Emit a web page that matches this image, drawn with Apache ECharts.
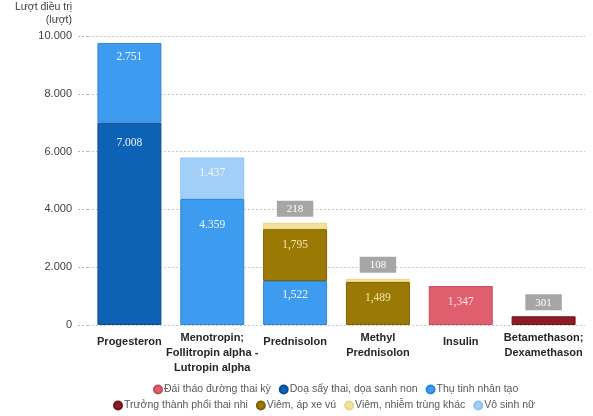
<!DOCTYPE html>
<html>
<head>
<meta charset="utf-8">
<script src="https://cdn.jsdelivr.net/npm/echarts@6/dist/echarts.min.js"></script>
<style>
  html, body { margin: 0; padding: 0; background: #ffffff; }
  #chart { width: 593px; height: 416px; }
</style>
</head>
<body>
<div id="chart"></div>
<script>
// Drug categories along the x axis
const categories = [
  'Progesteron',
  'Menotropin;\nFollitropin alpha -\nLutropin alpha',
  'Prednisolon',
  'Methyl\nPrednisolon',
  'Insulin',
  'Betamethason;\nDexamethason'
];

// Treatment counts per indication (null = not used for that drug)
const doaSayThai      = [7008, null, null, null, null, null];
const thuTinh         = [2751, 4359, 1522, null, null, null];
const viemApXeVu      = [null, null, 1795, 1489, null, null];
const viemNhiemTrung  = [null, null, 218, 108, null, null];
const voSinhNu        = [null, 1437, null, null, null, null];
const daiThaoDuong    = [null, null, null, null, 1347, null];
const truongThanhPhoi = [null, null, null, null, null, 301];

// Thousands separator used in each column's value labels
const labelSep = ['.', '.', ',', ',', ',', ','];

// Y axis ticks
const yMax = 10000;
const yStep = 2000;

const fmtNum = (v, sep) => String(v).replace(/\B(?=(\d{3})+(?!\d))/g, sep);

const insideLabel = (color, distance) => ({
  show: true,
  position: 'insideTop',
  distance: distance,
  color: color,
  fontFamily: 'Liberation Serif',
  fontSize: 11.5,
  formatter: p => fmtNum(p.value, labelSep[p.dataIndex])
});

const boxLabel = {
  show: true,
  position: 'top',
  distance: 6,
  color: '#ffffff',
  backgroundColor: '#a6a6a6',
  padding: [3, 10, 2, 10],
  fontFamily: 'Liberation Serif',
  fontSize: 11,
  formatter: p => fmtNum(p.value, labelSep[p.dataIndex])
};

// labelDrop: per-column label distance from the segment top (tall segments sit lower)
const barBase = (name, data, color, border, label, labelDrop) => ({
  name, type: 'bar', stack: 'total',
  data: data.map((v, i) => (labelDrop && labelDrop[i] != null && v != null)
    ? { value: v, label: { distance: labelDrop[i] } } : v),
  barWidth: 64,
  itemStyle: { color, borderColor: border, borderWidth: 1 },
  label
});

const series = [
  barBase('Doạ sẩy thai, dọa sanh non', doaSayThai, '#0e62b5', '#0a4f94', insideLabel('#e8f1fb', 15)),
  barBase('Thụ tinh nhân tạo', thuTinh, '#3d9cf0', '#2f86d6', insideLabel('#f2f8ff', 8), [null, 20, null]),
  barBase('Viêm, áp xe vú', viemApXeVu, '#9a7a05', '#7d6304', insideLabel('#f2e6a6', 10)),
  barBase('Viêm, nhiễm trùng khác', viemNhiemTrung, '#f4e29a', '#e8d48a', boxLabel),
  barBase('Vô sinh nữ', voSinhNu, '#a2cff7', '#8fc2ef', insideLabel('#f4f9ff', 9)),
  barBase('Đái tháo đường thai kỳ', daiThaoDuong, '#df5f6f', '#c44c5b', insideLabel('#fbe3e6', 10)),
  barBase('Trưởng thành phổi thai nhi', truongThanhPhoi, '#8e1c24', '#6f141b', boxLabel)
];

const legendCommon = {
  icon: 'circle',
  itemWidth: 8,
  itemHeight: 8,
  itemGap: 8,
  width: 560,
  padding: 0,
  textStyle: { color: '#595959', fontSize: 10.5, fontFamily: 'Liberation Sans', padding: [0, 0, 0, -3] }
};

const chart = echarts.init(document.getElementById('chart'), null, { renderer: 'canvas' });
chart.setOption({
  animation: false,
  backgroundColor: '#ffffff',
  grid: { left: 88, right: 8, top: 36, bottom: 91, containLabel: false },
  legend: [
    Object.assign({}, legendCommon, {
      left: 153,
      top: 384,
      data: ['Đái tháo đường thai kỳ', 'Doạ sẩy thai, dọa sanh non', 'Thụ tinh nhân tạo']
    }),
    Object.assign({}, legendCommon, {
      left: 113,
      top: 400,
      data: ['Trưởng thành phổi thai nhi', 'Viêm, áp xe vú', 'Viêm, nhiễm trùng khác', 'Vô sinh nữ']
    })
  ],
  xAxis: {
    type: 'category',
    data: categories,
    axisLine: { show: false },
    axisTick: { show: false },
    axisLabel: {
      interval: 0,
      margin: 5,
      color: '#262626',
      fontWeight: 'bold',
      fontSize: 11,
      fontFamily: 'Liberation Sans',
      lineHeight: 15,
      verticalAlign: 'top',
      formatter: v => v.indexOf('\n') < 0 ? '{s|' + v + '}' : v,
      rich: {
        s: { fontWeight: 'bold', fontSize: 11, fontFamily: 'Liberation Sans', color: '#262626', padding: [9, 0, 0, 0], lineHeight: 15 }
      }
    }
  },
  yAxis: {
    type: 'value',
    min: 0,
    max: yMax,
    interval: yStep,
    name: 'Lượt điều trị\n(lượt)',
    nameLocation: 'end',
    nameGap: 9,
    nameTextStyle: {
      color: '#404040', fontSize: 10.5, fontFamily: 'Liberation Sans',
      align: 'right', lineHeight: 13, padding: [0, 16, 0, 0]
    },
    axisLine: { show: false },
    axisTick: {
      show: true, length: 11,
      lineStyle: { color: '#b8b8b8', type: [2, 2], width: 1 }
    },
    splitLine: { lineStyle: { color: '#c8c8c8', type: [2, 2], width: 1 } },
    axisLabel: {
      margin: 16,
      color: '#404040',
      fontSize: 11,
      fontFamily: 'Liberation Sans',
      formatter: v => fmtNum(v, '.')
    }
  },
  series
});
</script>
</body>
</html>
